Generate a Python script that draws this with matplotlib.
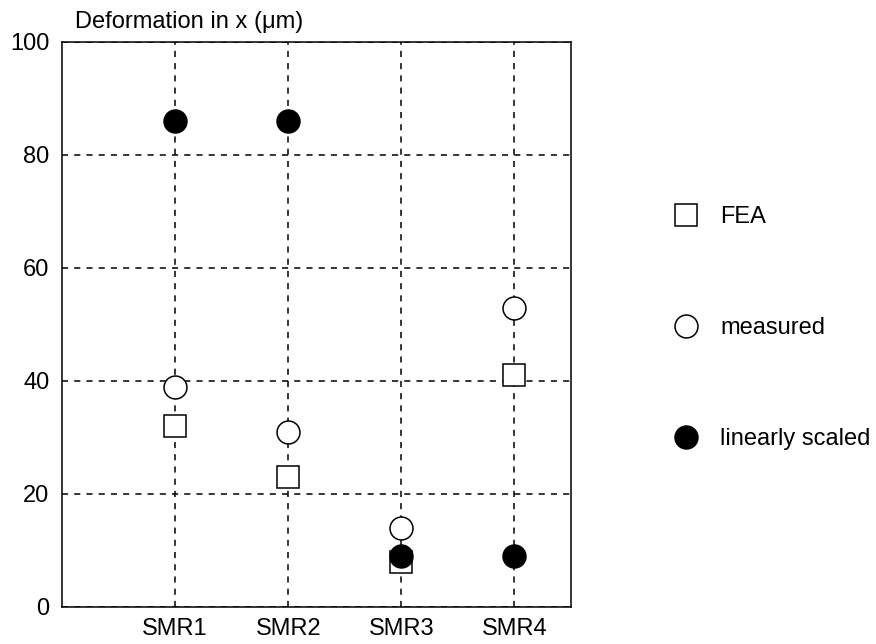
import numpy as np
import matplotlib.pyplot as plt

plt.rcParams['font.family'] = ['Liberation Sans', 'DejaVu Sans']

# data
labels = ['SMR1', 'SMR2', 'SMR3', 'SMR4']
fea = [32, 23, 8, 41]
measured = [39, 31, 14, 53]
linear = [86, 86, 9, 9]

x = np.arange(1, len(labels) + 1)

fig = plt.figure(figsize=(8.76, 6.44), dpi=100)
ax = fig.add_axes([0.0708, 0.0575, 0.581, 0.8773])

ax.plot(x, fea, 's', ms=16.5, mfc='white', mec='black', mew=1.1, label='FEA', zorder=3)
ax.plot(x, measured, 'o', ms=16.5, mfc='white', mec='black', mew=1.1, label='measured', zorder=3)
ax.plot(x, linear, 'o', ms=16.5, mfc='black', mec='black', mew=1.1, label='linearly scaled', zorder=4)

ax.set_xlim(0, 4.5)
ax.set_ylim(0, 100)
ax.set_xticks(x)
ax.set_xticklabels(labels)
ax.set_yticks(np.arange(0, 101, 20))
ax.tick_params(labelsize=17, length=0)
ax.tick_params(axis='y', pad=9)
ax.tick_params(axis='x', pad=8)
ax.grid(True, color='black', linestyle=(0, (4, 4)), linewidth=1.1)
ax.set_axisbelow(True)
for s in ax.spines.values():
    s.set_linewidth(1.1)

fig.text(75 / 876, 1 - 22 / 644, 'Deformation in x (\u03bcm)', fontsize=17, va='center', ha='left')

leg = fig.legend(loc='center left', bbox_to_anchor=(674 / 876, 1 - 328 / 644), frameon=False,
                 fontsize=17, labelspacing=3.77, handlelength=1.0, handletextpad=0.95,
                 numpoints=1, borderaxespad=0, borderpad=0)

fig.savefig('out.png', dpi=100)
